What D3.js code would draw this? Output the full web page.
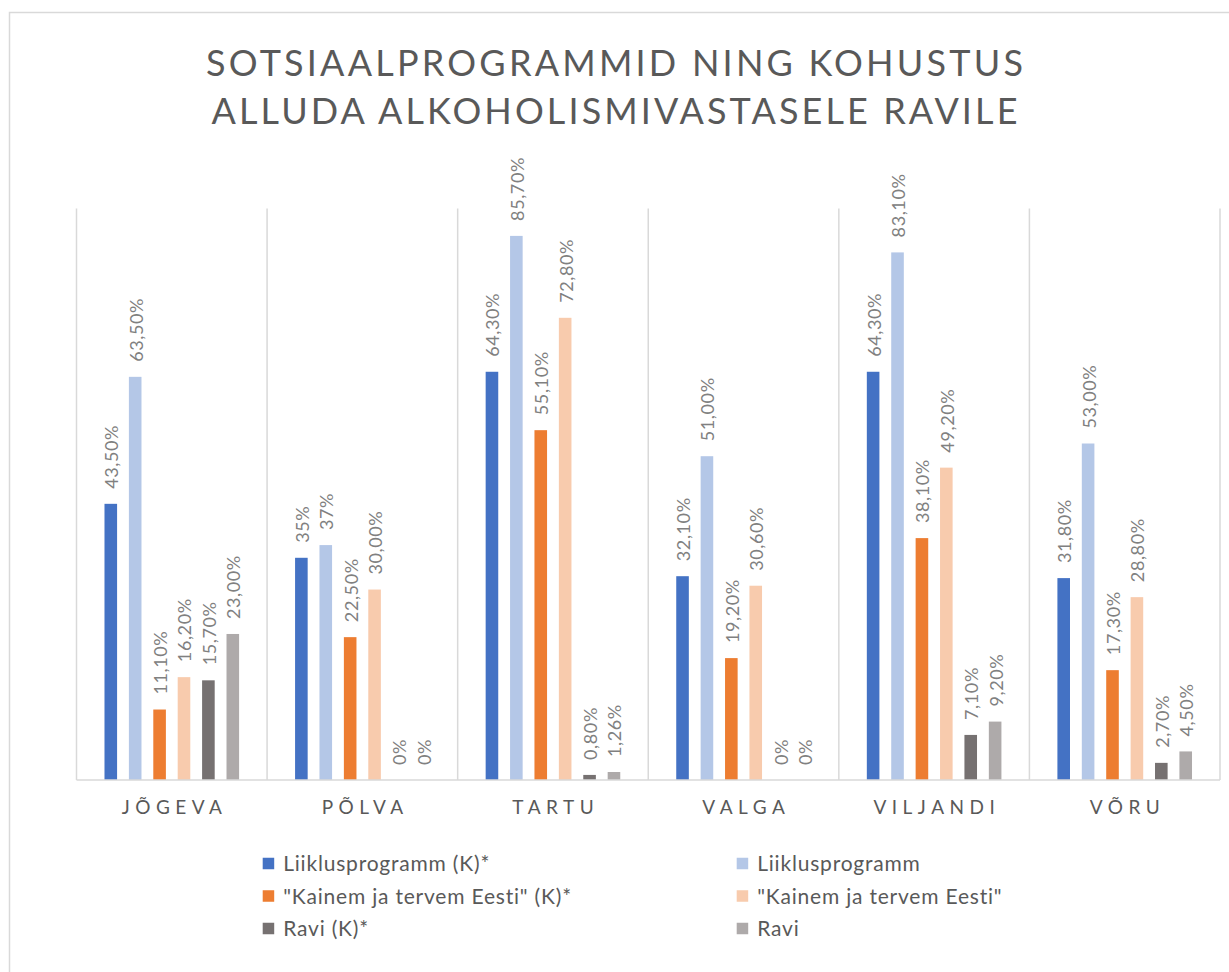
<!DOCTYPE html>
<html>
<head>
<meta charset="utf-8">
<script src="https://cdn.jsdelivr.net/npm/d3@7"></script>
<style>
  html, body { margin: 0; padding: 0; background: #fff; }
  svg { display: block; }
  text { font-family: Lato, "Open Sans", sans-serif; }
</style>
</head>
<body>
<svg id="chart" width="1229" height="972"></svg>
<script>
// ---- data ----
const titleLines = ["SOTSIAALPROGRAMMID NING KOHUSTUS", "ALLUDA ALKOHOLISMIVASTASELE RAVILE"];
const categories = ["JÕGEVA", "PÕLVA", "TARTU", "VALGA", "VILJANDI", "VÕRU"];
const seriesNames = ["Liiklusprogramm (K)*", "Liiklusprogramm", "\"Kainem ja tervem Eesti\" (K)*", "\"Kainem ja tervem Eesti\"", "Ravi (K)*", "Ravi"];
const seriesColors = ["#4472C4", "#B4C7E7", "#ED7D31", "#F8CBAD", "#767171", "#AEAAAA"];
const liiklusK   = [43.5, 35, 64.3, 32.1, 64.3, 31.8];
const liiklus    = [63.5, 37, 85.7, 51.0, 83.1, 53.0];
const kainemK    = [11.1, 22.5, 55.1, 19.2, 38.1, 17.3];
const kainem     = [16.2, 30.0, 72.8, 30.6, 49.2, 28.8];
const raviK      = [15.7, 0, 0.8, 0, 7.1, 2.7];
const ravi       = [23.0, 0, 1.26, 0, 9.2, 4.5];
const liiklusKLabels = ["43,50%", "35%", "64,30%", "32,10%", "64,30%", "31,80%"];
const liiklusLabels  = ["63,50%", "37%", "85,70%", "51,00%", "83,10%", "53,00%"];
const kainemKLabels  = ["11,10%", "22,50%", "55,10%", "19,20%", "38,10%", "17,30%"];
const kainemLabels   = ["16,20%", "30,00%", "72,80%", "30,60%", "49,20%", "28,80%"];
const raviKLabels    = ["15,70%", "0%", "0,80%", "0%", "7,10%", "2,70%"];
const raviLabels     = ["23,00%", "0%", "1,26%", "0%", "9,20%", "4,50%"];
const yMax = 90;

const seriesValues = [liiklusK, liiklus, kainemK, kainem, raviK, ravi];
const seriesLabels = [liiklusKLabels, liiklusLabels, kainemKLabels, kainemLabels, raviKLabels, raviLabels];

// ---- layout ----
const svg = d3.select("#chart");
const plot = { left: 76.5, right: 1220, top: 208.6, bottom: 780 };
const gridColor = "#D9D9D9";
const textGray = "#595959";
const labelGray = "#808080";

// outer chart border
svg.append("rect")
  .attr("x", 9.5).attr("y", 12.5)
  .attr("width", 1300).attr("height", 1100)
  .attr("fill", "none").attr("stroke", gridColor).attr("stroke-width", 1.5);

// title
const title = svg.append("g");
const titleY = [76, 124];
const titleW = [817, 806];
titleLines.forEach((t, i) => {
  const el = title.append("text")
    .attr("x", 614.5).attr("y", titleY[i])
    .attr("text-anchor", "middle")
    .attr("fill", textGray)
    .attr("font-size", 36)
    .attr("font-weight", 400)
    .text(t);
  const w = el.node().getComputedTextLength();
  const ls = (titleW[i] - w) / (t.length - 1);
  el.attr("letter-spacing", ls.toFixed(2));
  el.attr("x", 614.5 + ls / 2);
});

// scales
const x0 = d3.scaleBand().domain(categories).range([plot.left, plot.right]).padding(0);
const x1 = d3.scaleBand().domain(d3.range(seriesNames.length))
  .range([0, x0.bandwidth()]).paddingInner(0.484).paddingOuter(1.147);
const y = d3.scaleLinear().domain([0, yMax]).range([plot.bottom, plot.top]);

// vertical gridlines at category boundaries
const bounds = categories.map(c => x0(c)).concat([plot.right]);
svg.append("g").selectAll("line").data(bounds).join("line")
  .attr("x1", d => d).attr("x2", d => d)
  .attr("y1", plot.top).attr("y2", plot.bottom)
  .attr("stroke", gridColor).attr("stroke-width", 1.5);

// bars
const groups = svg.append("g").selectAll("g").data(categories).join("g")
  .attr("transform", c => `translate(${x0(c)},0)`);

groups.each(function(c, ci) {
  const g = d3.select(this);
  seriesValues.forEach((vals, si) => {
    const v = vals[ci];
    g.append("rect")
      .attr("x", x1(si)).attr("width", x1.bandwidth())
      .attr("y", y(v)).attr("height", y(0) - y(v))
      .attr("fill", seriesColors[si]);
    const cx = x1(si) + x1.bandwidth() / 2;
    g.append("text")
      .attr("transform", `translate(${cx + 1},${y(v) - 15}) rotate(-90)`)
      .attr("dy", "0.36em")
      .attr("fill", labelGray)
      .attr("font-size", 18)
      .attr("letter-spacing", 0.6)
      .text(seriesLabels[si][ci]);
  });
});

// baseline axis
svg.append("line")
  .attr("x1", plot.left).attr("x2", plot.right)
  .attr("y1", plot.bottom).attr("y2", plot.bottom)
  .attr("stroke", gridColor).attr("stroke-width", 1.5);

// category labels
const xAxis = d3.axisBottom(x0).tickSize(0).tickPadding(0);
const axisG = svg.append("g").attr("transform", `translate(0,${plot.bottom})`).call(xAxis);
axisG.select(".domain").remove();
axisG.selectAll("text")
  .attr("y", 34).attr("dy", 0)
  .attr("fill", textGray)
  .attr("font-size", 19)
  .attr("letter-spacing", 5.5)
  .attr("dx", 2.75)
  .style("font-family", "Lato, 'Open Sans', sans-serif");

// legend
const legCols = [262.7, 736.7];
const legRows = [863.5, 896, 928.5];
const legend = svg.append("g");
seriesNames.forEach((name, i) => {
  const col = i % 2, row = Math.floor(i / 2);
  const lx = legCols[col], ly = legRows[row];
  legend.append("rect")
    .attr("x", lx).attr("y", ly - 5.75)
    .attr("width", 11.5).attr("height", 11.5)
    .attr("fill", seriesColors[i]);
  legend.append("text")
    .attr("x", lx + 20.5).attr("y", ly)
    .attr("dy", "0.36em")
    .attr("fill", textGray)
    .attr("font-size", 21)
    .attr("letter-spacing", 0.8)
    .text(name);
});
</script>
</body>
</html>
